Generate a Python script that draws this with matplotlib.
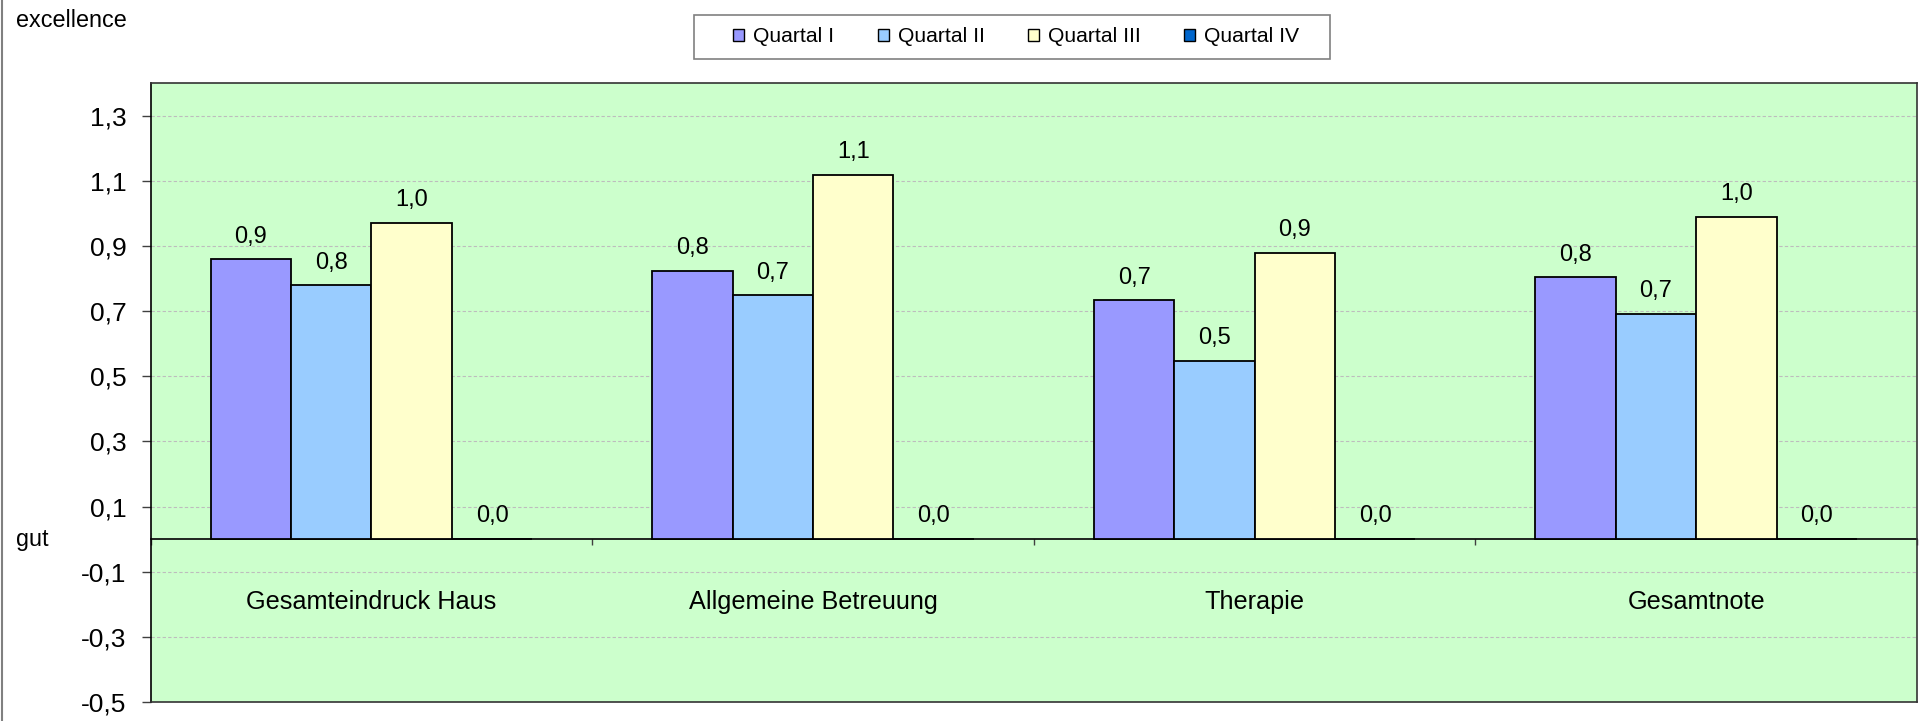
import numpy as np
import matplotlib
matplotlib.use("Agg")
import matplotlib.pyplot as plt
from matplotlib.patches import Rectangle
from matplotlib.lines import Line2D

plt.rcParams['font.family'] = ['Liberation Sans', 'DejaVu Sans']

# ----------------------------
# Data
# ----------------------------
categories = ["Gesamteindruck Haus", "Allgemeine Betreuung", "Therapie", "Gesamtnote"]
series_names = ["Quartal I", "Quartal II", "Quartal III", "Quartal IV"]

q1 = [0.859, 0.823, 0.733, 0.804]
q2 = [0.779, 0.748, 0.548, 0.691]
q3 = [0.970, 1.119, 0.878, 0.990]
q4 = [0.0, 0.0, 0.0, 0.0]

y_ticks = [-0.5, -0.3, -0.1, 0.1, 0.3, 0.5, 0.7, 0.9, 1.1, 1.3]

colors = ["#9999FF", "#99CCFF", "#FFFFCC", "#0066CC"]
series = [q1, q2, q3, q4]

# ----------------------------
# Figure
# ----------------------------
W, H = 1921, 721
fig = plt.figure(figsize=(W / 100, H / 100), dpi=100)
ax = fig.add_axes([150.7 / W, 1 - 702 / H, (1917 - 150.7) / W, (702 - 83) / H])
ax.set_facecolor("#CCFFCC")

ymin, ymax = -0.5, 1.4
ax.set_ylim(ymin, ymax)
ax.set_xlim(-0.5, len(categories) - 0.5)

x = np.arange(len(categories))
w = 0.182

for j, (vals, col) in enumerate(zip(series, colors)):
    xpos = x + (j - 1.5) * w
    ax.bar(xpos, vals, width=w, color=col, edgecolor="black", linewidth=1.3,
           label=series_names[j], zorder=3)
    for xp, v in zip(xpos, vals):
        ax.annotate(f"{v:.1f}".replace(".", ","), xy=(xp, v), xytext=(0, 12),
                    textcoords="offset points", ha="center", va="baseline",
                    fontsize=17, color="black", zorder=4)

# category labels sit under the zero line
for xi, name in zip(x, categories):
    ax.text(xi, -0.215, name, ha="center", va="baseline", fontsize=18.2, zorder=4)

# y axis
ax.set_yticks(y_ticks)
ax.set_yticklabels([f"{t:.1f}".replace(".", ",") for t in y_ticks])
ax.tick_params(axis="y", length=6.5, width=1, color="#404040", pad=11,
               labelsize=19, direction="out")
ax.tick_params(axis="x", bottom=False, labelbottom=False)
ax.grid(axis="y", color="#bdbdbd", linestyle=(0, (3, 2)), linewidth=0.8, zorder=0)
ax.set_axisbelow(True)

for side in ["top", "right", "bottom"]:
    ax.spines[side].set_color("#333333")
    ax.spines[side].set_linewidth(1.2)
ax.spines["left"].set_color("black")
ax.spines["left"].set_linewidth(1.2)

# zero line with category boundary ticks
zero_loc = (0 - ymin) / (ymax - ymin)
sec = ax.secondary_xaxis(zero_loc)
sec.set_xticks(np.arange(len(categories) + 1) - 0.5)
sec.tick_params(axis="x", length=4.5, width=1, color="#404040", direction="out",
                labelbottom=False)
sec.spines["bottom"].set_color("black")
sec.spines["bottom"].set_linewidth(1.2)

# legend with its own box
leg = fig.legend(loc="center", bbox_to_anchor=(1016.3 / W, 1 - 36.8 / H), ncol=4,
                 frameon=False, fontsize=15.2, handlelength=0.52, handleheight=0.52,
                 handletextpad=0.43, columnspacing=2.05, borderpad=0.2)
for h in leg.legend_handles:
    h.set_linewidth(1)
fig.patches.append(Rectangle((693.5 / W, 1 - 58.8 / H), (1330 - 693.5) / W, 44.1 / H,
                             transform=fig.transFigure, fill=False,
                             edgecolor="#808080", linewidth=1.2))

# side texts
fig.text(16 / W, 1 - 26.7 / H, "excellence", fontsize=16.8, va="baseline", ha="left")
fig.text(16 / W, 1 - 545.7 / H, "gut", fontsize=16.8, va="baseline", ha="left")

# left border of the chart area
fig.add_artist(Line2D([0.0008, 0.0008], [0, 1], transform=fig.transFigure,
                      color="#808080", linewidth=1.5))

fig.savefig("out.png", dpi=100)
